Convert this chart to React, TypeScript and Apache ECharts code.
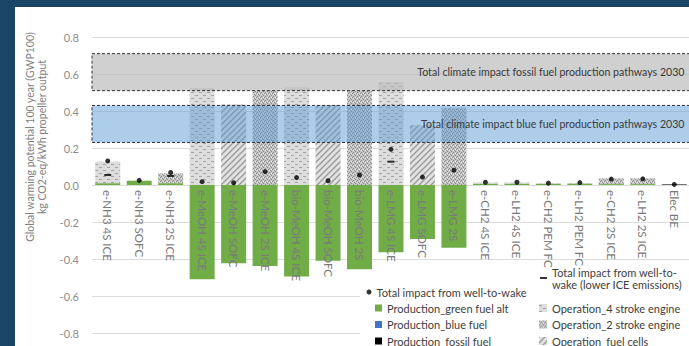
import React, { useEffect, useRef } from "react";
import * as echarts from "echarts";

const categories = [
  "e-NH3 4S ICE", "e-NH3 SOFC", "e-NH3 2S ICE",
  "e-MeOH 4S ICE", "e-MeOH SOFC", "e-MeOH 2S ICE",
  "bio-MeOH 4S ICE", "bio-MeOH SOFC", "bio-MeOH 2S",
  "e-LMG 4S ICE", "e-LMG SOFC", "e-LMG 2S",
  "e-CH2 4S ICE", "e-LH2 4S ICE", "e-CH2 PEM FC", "e-LH2 PEM FC",
  "e-CH2 2S ICE", "e-LH2 2S ICE", "Elec BE",
];

const productionGreen = [0.01, 0.023, 0.01, -0.51, -0.423, -0.438, -0.495, -0.409, -0.456, -0.364, -0.292, -0.339, 0.008, 0.008, 0.007, 0.008, 0.005, 0.005, null];
const productionBlue = [null, null, null, null, null, null, null, null, null, null, null, null, null, null, null, null, null, null, null];
const productionFossil = [null, null, null, null, null, null, null, null, null, null, null, null, null, null, null, null, null, null, 0.003];
const operation4S = [0.116, null, null, 0.525, null, null, 0.528, null, null, 0.558, null, null, 0.005, 0.005, null, null, null, null, null];
const operation2S = [null, null, 0.053, null, null, 0.51, null, null, 0.51, null, null, 0.418, null, null, null, null, 0.031, 0.031, null];
const operationFC = [null, 0.002, null, null, 0.435, null, null, 0.432, null, null, 0.324, null, null, null, 0.002, 0.002, null, null, null];
const totalImpact = [0.13, 0.025, 0.068, 0.018, 0.012, 0.072, 0.04, 0.023, 0.054, 0.193, 0.043, 0.08, 0.015, 0.015, 0.01, 0.013, 0.032, 0.033, 0.003];
const totalLowerIce = [0.054, null, 0.049, null, null, null, null, null, null, 0.126, null, null, null, null, null, null, null, null, null];

const fossilBand = [0.51, 0.71];
const blueBand = [0.23, 0.43];
const fossilBandLabel = "Total climate impact fossil fuel production pathways 2030";
const blueBandLabel = "Total climate impact blue fuel production pathways 2030";

const yMin = -0.8;
const yMax = 0.8;
const yInterval = 0.2;

const FONT = "Lato";

function makePattern(kind: string) {
  const c = document.createElement("canvas");
  if (kind === "4s") {
    c.width = 8; c.height = 6;
    const g = c.getContext("2d")!;
    g.fillStyle = "#dddddd"; g.fillRect(0, 0, 8, 6);
    g.fillStyle = "#a3a3a3";
    g.fillRect(0, 1, 3, 1);
    g.fillRect(4, 4, 3, 1);
  } else if (kind === "2s") {
    c.width = 4; c.height = 4;
    const g = c.getContext("2d")!;
    g.fillStyle = "#c6c6c6"; g.fillRect(0, 0, 4, 4);
    g.fillStyle = "#8a8a8a";
    g.fillRect(0, 0, 1, 1); g.fillRect(2, 1, 1, 1); g.fillRect(1, 2, 1, 1); g.fillRect(3, 3, 1, 1);
    g.fillStyle = "#e6e6e6";
    g.fillRect(2, 3, 1, 1); g.fillRect(0, 2, 1, 1);
  } else {
    c.width = 6; c.height = 6;
    const g = c.getContext("2d")!;
    g.fillStyle = "#e2e2e2"; g.fillRect(0, 0, 6, 6);
    g.strokeStyle = "#9a9a9a"; g.lineWidth = 1.4;
    g.beginPath();
    g.moveTo(0, 6); g.lineTo(6, 0);
    g.moveTo(-1, 1); g.lineTo(1, -1);
    g.moveTo(5, 7); g.lineTo(7, 5);
    g.stroke();
  }
  return { image: c, repeat: "repeat" };
}

export default function App() {
  const ref = useRef<HTMLDivElement>(null);
  useEffect(() => {
    if (!ref.current) return;
    const chart = echarts.init(ref.current, undefined, { renderer: "svg" });
    const p4 = makePattern("4s");
    const p2 = makePattern("2s");
    const pfc = makePattern("fc");
    const legendText = { color: "#404040", fontSize: 11, fontFamily: FONT, lineHeight: 14 };
    const gridTop = 30;
    const gridHeight = 296;
    // distance from the bottom of the grid to the zero line, through the value range
    const zeroOffset = -gridHeight * (0 - yMin) / (yMax - yMin);
    const option: any = {
      animation: false,
      backgroundColor: "#ffffff",
      textStyle: { fontFamily: FONT },
      grid: { left: 77, top: gridTop, width: 598, height: gridHeight, containLabel: false, outerBoundsMode: "none" },
      xAxis: {
        type: "category",
        data: categories,
        z: 10,
        position: "bottom",
        offset: zeroOffset,
        axisLine: { show: false, onZero: false },
        axisTick: { show: false },
        axisLabel: { rotate: -90, interval: 0, margin: 5, color: "#7a7a7a", fontSize: 11.5, fontFamily: FONT },
        splitLine: { show: false },
      },
      yAxis: {
        type: "value",
        min: yMin,
        max: yMax,
        interval: yInterval,
        axisLine: { show: false },
        axisTick: { show: false },
        axisLabel: { color: "#8c8c8c", fontSize: 11, margin: 13, fontFamily: FONT, formatter: (v: number) => v.toFixed(1) },
        splitLine: { lineStyle: { color: "#dcdcdc", width: 1 } },
      },
      graphic: [
        { type: "rect", z: 1, shape: { x: 345, y: 258, width: 400, height: 100 }, style: { fill: "#ffffff" } },
        {
          type: "text", x: 21, y: 130, rotation: Math.PI / 2,
          style: {
            text: "Global warming potential 100 year (GWP100)\nkg CO2-eq/kWh propeller output",
            fill: "#808080", fontSize: 10.5, fontFamily: FONT, lineHeight: 12,
            align: "center", verticalAlign: "middle",
          },
        },
      ],
      legend: [
        { data: ["Total impact from well-to-wake"], left: 351.5, top: 278, height: 40, padding: 0, itemWidth: 5, itemHeight: 5, icon: "circle", selectedMode: false, textStyle: legendText },
        { data: ["Production_green fuel alt", "Production_blue fuel", "Production_fossil fuel"], orient: "vertical", left: 360, top: 294, height: 80, padding: 0, itemWidth: 7, itemHeight: 7, itemGap: 2.5, icon: "rect", selectedMode: false, textStyle: legendText },
        { data: ["Total impact from well-to-\nwake (lower ICE emissions)"], left: 525, top: 253, height: 60, padding: 0, itemWidth: 7, itemHeight: 2, icon: "rect", selectedMode: false, textStyle: { ...legendText, lineHeight: 12, padding: [12, 0, 0, 0] } },
        { data: ["Operation_4 stroke engine", "Operation_2 stroke engine", "Operation_fuel cells"], orient: "vertical", left: 524, top: 294, height: 80, padding: 0, itemWidth: 8, itemHeight: 8, itemGap: 2.5, icon: "rect", selectedMode: false, textStyle: legendText },
      ],
      series: [
        {
          name: "Production_green fuel alt", type: "bar", stack: "a", barWidth: 25, data: productionGreen,
          itemStyle: { color: "#70ad47" },
          markArea: {
            silent: true,
            z: 5,
            data: [
              [
                { name: fossilBandLabel, yAxis: fossilBand[0], itemStyle: { color: "rgba(185,185,185,0.68)", borderColor: "#333", borderWidth: 1, borderType: [3, 2] } },
                { yAxis: fossilBand[1] },
              ],
              [
                { name: blueBandLabel, yAxis: blueBand[0], itemStyle: { color: "rgba(91,155,213,0.5)", borderColor: "#333", borderWidth: 1, borderType: [3, 2] } },
                { yAxis: blueBand[1] },
              ],
            ],
            label: { show: true, position: "insideRight", distance: 6, color: "#3a3a3a", fontSize: 10.6, fontFamily: FONT },
          },
        },
        { name: "Production_blue fuel", type: "bar", stack: "a", barWidth: 25, data: productionBlue, itemStyle: { color: "#4472c4" } },
        { name: "Production_fossil fuel", type: "bar", stack: "a", barWidth: 25, data: productionFossil, itemStyle: { color: "#000000" } },
        { name: "Operation_4 stroke engine", type: "bar", stack: "a", barWidth: 25, data: operation4S, itemStyle: { color: p4 } },
        { name: "Operation_2 stroke engine", type: "bar", stack: "a", barWidth: 25, data: operation2S, itemStyle: { color: p2 } },
        { name: "Operation_fuel cells", type: "bar", stack: "a", barWidth: 25, data: operationFC, itemStyle: { color: pfc } },
        { name: "Total impact from well-to-wake", type: "scatter", z: 6, symbol: "circle", symbolSize: 5, data: totalImpact, itemStyle: { color: "#000000" } },
        { name: "Total impact from well-to-\nwake (lower ICE emissions)", type: "scatter", z: 6, symbol: "rect", symbolSize: [7, 2], data: totalLowerIce, itemStyle: { color: "#000000" } },
      ],
    };
    chart.setOption(option);
    return () => chart.dispose();
  }, []);
  return (
    <div style={{ position: "fixed", left: 0, top: 0, width: 689, height: 346, background: "#1b4566", overflow: "hidden" }}>
      <div ref={ref} style={{ position: "absolute", left: 15, top: 7, width: 674, height: 339 }} />
    </div>
  );
}
